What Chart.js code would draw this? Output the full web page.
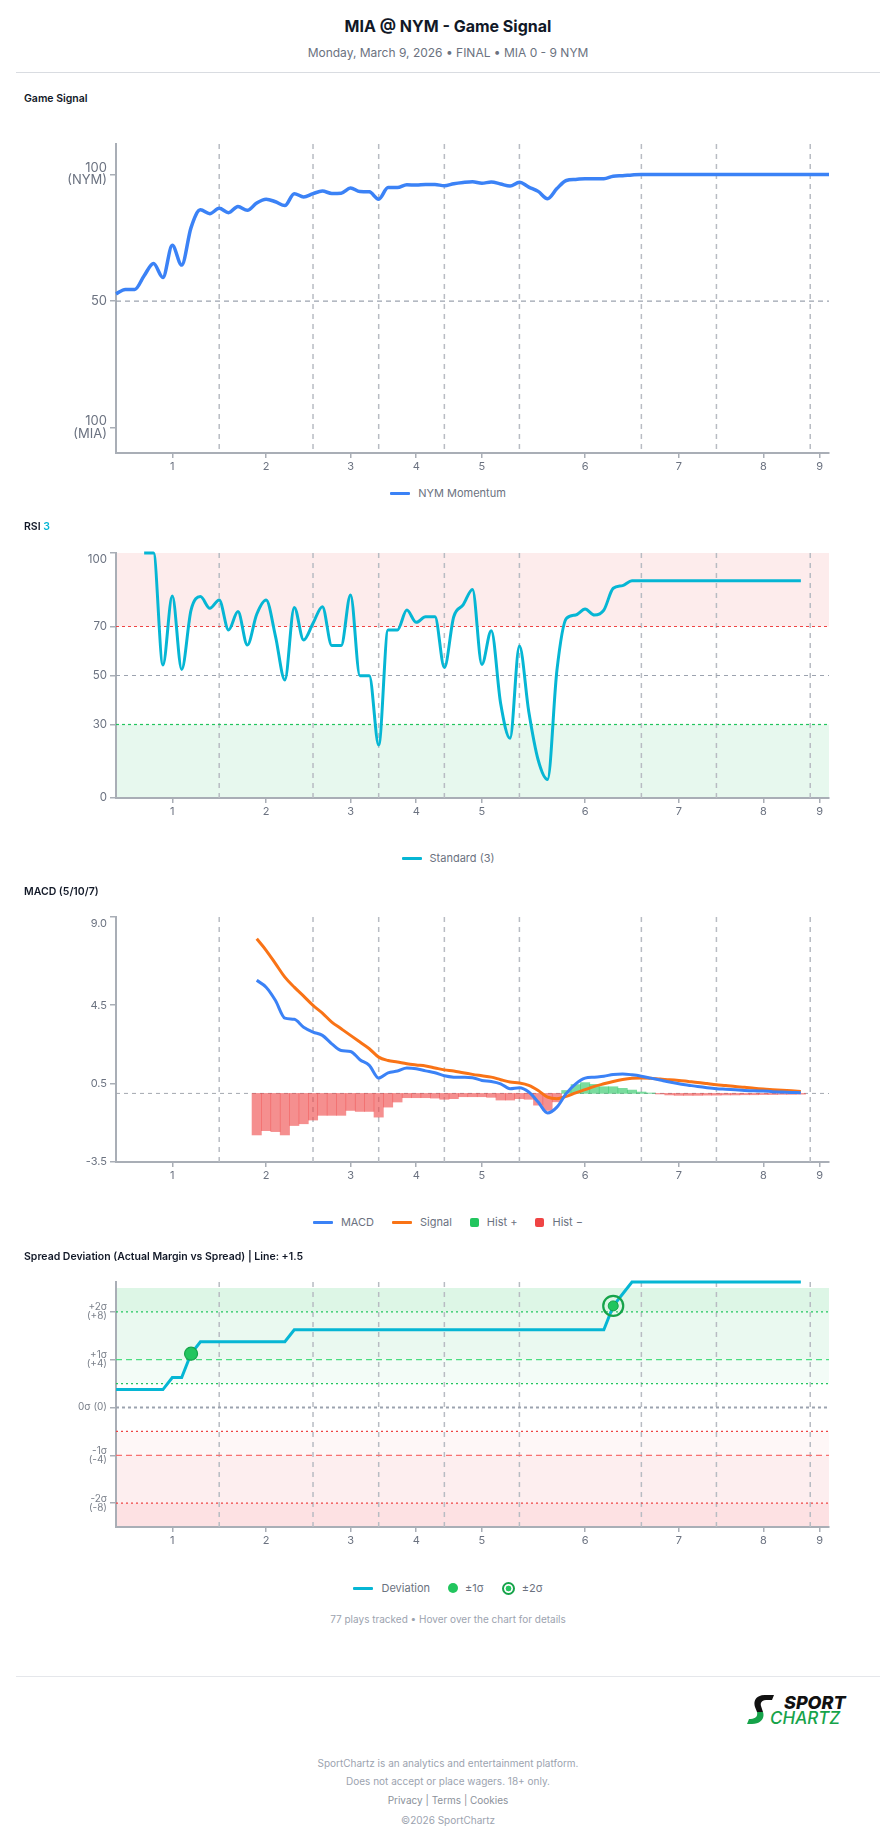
<!DOCTYPE html>
<html>
<head>
<meta charset="utf-8">
<title>MIA @ NYM - Game Signal</title>
<script src="https://cdn.jsdelivr.net/npm/chart.js@4.4.1/dist/chart.umd.min.js"></script>
<style>
    body { margin: 0; background: #fff; font-family: 'Inter', sans-serif; }
    #page { position: relative; width: 896px; height: 1845px; overflow: hidden; }
    .abs { position: absolute; white-space: nowrap; }
    .center { left: 0; width: 896px; text-align: center; }
    .title { top: 16px; font-size: 16px; line-height: 20px; font-weight: 700; color: #111827; }
    .subtitle { top: 45px; font-size: 12px; line-height: 16px; color: #6b7280; }
    .rule { position: absolute; left: 16px; width: 864px; height: 1px; background: #d9dce1; }
    .section { left: 24px; font-size: 10.5px; line-height: 14px; font-weight: 600; color: #111827; z-index: 2; }
    canvas { position: absolute; left: 0; }
    .legend { position: absolute; left: 0; width: 896px; display: flex; justify-content: center; gap: 18px;
              font-size: 11px; line-height: 14px; color: #6b7280; }
    .legend span { display: flex; align-items: center; }
    .ln { display: inline-block; width: 20px; height: 3px; margin-right: 8px; border-radius: 1px; }
    .sq { display: inline-block; width: 9px; height: 9px; margin-right: 8px; border-radius: 2px; }
    .dot { display: inline-block; width: 10px; height: 10px; margin-right: 7px; border-radius: 50%; background: #22c55e; }
    .ring { display: inline-block; width: 9px; height: 9px; margin-right: 7px; border-radius: 50%;
            border: 2px solid #16a34a; background: radial-gradient(circle, #22c55e 0 2.6px, #fff 3.2px); }
    .note { font-size: 10px; line-height: 14px; color: #9ca3af; }
    .foot { font-size: 10px; line-height: 14px; color: #9ca3af; }
</style>
</head>
<body>
<div id="page">
    <div class="abs center title">MIA @ NYM - Game Signal</div>
    <div class="abs center subtitle">Monday, March 9, 2026 • FINAL • MIA 0 - 9 NYM</div>
    <div class="rule" style="top:72px"></div>

    <canvas id="signalChart" width="896" height="363" style="top:120px"></canvas>
    <canvas id="rsiChart" width="896" height="299" style="top:529px"></canvas>
    <canvas id="macdChart" width="896" height="299" style="top:893px"></canvas>
    <canvas id="spreadChart" width="896" height="299" style="top:1258px"></canvas>

    <div class="abs section" style="top:92px">Game Signal</div>
    <div class="legend" style="top:486px">
        <span><i class="ln" style="background:#3b82f6"></i>NYM Momentum</span>
    </div>

    <div class="abs section" style="top:520px">RSI <span style="color:#06b6d4">3</span></div>
    <div class="legend" style="top:851px">
        <span><i class="ln" style="background:#06b6d4"></i>Standard (3)</span>
    </div>

    <div class="abs section" style="top:885px">MACD (5/10/7)</div>
    <div class="legend" style="top:1215px">
        <span><i class="ln" style="background:#3b82f6"></i>MACD</span>
        <span><i class="ln" style="background:#f97316"></i>Signal</span>
        <span><i class="sq" style="background:#22c55e"></i>Hist +</span>
        <span><i class="sq" style="background:#ef4444"></i>Hist −</span>
    </div>

    <div class="abs section" style="top:1250px">Spread Deviation (Actual Margin vs Spread) | Line: +1.5</div>
    <div class="legend" style="top:1581px">
        <span><i class="ln" style="background:#06b6d4"></i>Deviation</span>
        <span><i class="dot"></i>±1σ</span>
        <span><i class="ring"></i>±2σ</span>
    </div>
    <div class="abs center note" style="top:1612px">77 plays tracked • Hover over the chart for details</div>

    <div class="rule" style="top:1676px; background:#e5e7eb"></div>

    <svg class="abs" style="left:744px; top:1691px" width="126" height="36" viewBox="0 0 126 36">
        <path d="M30 4 L22 4 C12 4 9 10 11 16 L13 21 L19 21 L17 15 C16 11 18 9 24 9 L28 9 Z" fill="#111"/>
        <path d="M13 21 L19 21 C21 27 17 33 8 33 L3 33 L5 28 C11 28 14 26 13 21 Z" fill="#16a34a"/>
        <text x="40" y="18" font-family="Inter, sans-serif" font-size="18" font-weight="800" font-style="italic" fill="#111">SPORT</text>
        <text x="26" y="33" font-family="Inter, sans-serif" font-size="17" font-weight="500" font-style="italic" fill="#16a34a">CHARTZ</text>
    </svg>

    <div class="abs center foot" style="top:1756px">SportChartz is an analytics and entertainment platform.</div>
    <div class="abs center foot" style="top:1774px">Does not accept or place wagers. 18+ only.</div>
    <div class="abs center foot" style="top:1793px; color:#8b919a">Privacy | Terms | Cookies</div>
    <div class="abs center foot" style="top:1813px">©2026 SportChartz</div>
</div>

<script>
// MIA @ NYM game signal charts (Chart.js)

// ---- play axis: 77 tracked plays, labelled by inning ----
const plays = Array.from({ length: 77 }, (_, i) => i);
const inningTicks = [6, 16, 25, 32, 39, 50, 60, 69, 75];
const inningLabels = ['1', '2', '3', '4', '5', '6', '7', '8', '9'];
const inningBreaks = [11, 21, 28, 35, 43, 56, 64, 74];

// ---- NYM momentum (0 = MIA, 100 = NYM) ----
const momentum = [
    52.8, 54.6, 54.6, 60.0, 64.8, 59.3, 72.0, 64.2, 79.0, 86.0,
    84.5, 86.6, 84.9, 87.3, 85.8, 88.7, 90.2, 89.2, 87.7, 92.4,
    91.1, 92.4, 93.4, 92.5, 92.6, 94.6, 93.2, 93.1, 90.2, 94.8,
    94.8, 95.9, 95.8, 96.0, 96.0, 95.5, 96.3, 96.8, 97.1, 96.5,
    97.0, 96.2, 95.4, 96.9, 95.0, 93.3, 90.4, 94.4, 97.6, 98.0,
    98.3, 98.3, 98.3, 99.3, 99.5, 99.8, 100, 100, 100, 100,
    100, 100, 100, 100, 100, 100, 100, 100, 100, 100,
    100, 100, 100, 100, 100, 100, 100
];

// ---- RSI (3) ----
const rsi = [
    null, null, null, 100, 100, 54.3, 82.4, 52.5, 76.7, 82.2,
    77.4, 80.8, 68.6, 76.1, 62.4, 75.0, 80.8, 66.0, 48.2, 77.8,
    64.5, 71.3, 78.1, 62.2, 62.2, 82.9, 49.9, 49.9, 21.6, 68.6,
    68.6, 76.7, 71.7, 74.0, 74.0, 53.3, 74.0, 78.8, 85.1, 54.5,
    68.3, 38.6, 24.4, 62.0, 35.2, 15.5, 7.6, 52.2, 73.3, 74.7,
    77.1, 74.7, 76.7, 85.6, 86.7, 88.7, 88.7, 88.7, 88.7, 88.7,
    88.7, 88.7, 88.7, 88.7, 88.7, 88.7, 88.7, 88.7, 88.7, 88.7,
    88.7, 88.7, 88.7, 88.7, null, null, null
];

// ---- MACD (5/10/7) ----
const macdLine = [
    null, null, null, null, null, null, null, null, null, null,
    null, null, null, null, null, 5.77, 5.42, 4.74, 3.84, 3.78,
    3.38, 3.13, 2.96, 2.53, 2.19, 2.14, 1.72, 1.43, 0.78, 1.05,
    1.14, 1.29, 1.26, 1.15, 1.05, 0.90, 0.83, 0.82, 0.80, 0.66,
    0.61, 0.49, 0.24, 0.29, 0.07, -0.44, -1.00, -0.70, 0.00, 0.49,
    0.78, 0.83, 0.87, 0.97, 0.99, 0.95, 0.88, 0.78, 0.68, 0.58,
    0.49, 0.42, 0.35, 0.29, 0.24, 0.21, 0.18, 0.15, 0.13, 0.12,
    0.09, 0.07, 0.05, 0.03, null, null, null
];
const signalLine = [
    null, null, null, null, null, null, null, null, null, null,
    null, null, null, null, null, 7.89, 7.30, 6.62, 5.93, 5.42,
    4.96, 4.49, 4.10, 3.64, 3.30, 2.96, 2.62, 2.28, 1.85, 1.68,
    1.60, 1.51, 1.45, 1.40, 1.30, 1.20, 1.14, 1.05, 0.97, 0.90,
    0.83, 0.70, 0.58, 0.53, 0.41, 0.15, -0.19, -0.27, -0.15, 0.03,
    0.19, 0.36, 0.49, 0.61, 0.71, 0.77, 0.78, 0.77, 0.73, 0.70,
    0.66, 0.61, 0.56, 0.50, 0.44, 0.40, 0.35, 0.31, 0.26, 0.22,
    0.19, 0.16, 0.13, 0.10, null, null, null
];
const histogram = [
    null, null, null, null, null, null, null, null, null, null,
    null, null, null, null, null, -2.12, -1.90, -1.95, -2.12, -1.64,
    -1.55, -1.36, -1.12, -1.12, -1.12, -0.87, -0.92, -0.92, -1.21, -0.70,
    -0.44, -0.22, -0.22, -0.22, -0.24, -0.30, -0.27, -0.17, -0.17, -0.17,
    -0.20, -0.34, -0.34, -0.27, -0.30, -0.60, -0.87, -0.43, 0.15, 0.45,
    0.55, 0.46, 0.34, 0.34, 0.26, 0.17, 0.07, 0.02, -0.03, -0.08,
    -0.10, -0.10, -0.10, -0.09, -0.09, -0.08, -0.08, -0.07, -0.07, -0.06,
    -0.06, -0.05, -0.05, -0.04, null, null, null
];

// ---- spread deviation (actual NYM margin + 1.5 line), sigma = 4 ----
const deviation = [
    1.5, 1.5, 1.5, 1.5, 1.5, 1.5, 2.5, 2.5, 4.5, 5.5,
    5.5, 5.5, 5.5, 5.5, 5.5, 5.5, 5.5, 5.5, 5.5, 6.5,
    6.5, 6.5, 6.5, 6.5, 6.5, 6.5, 6.5, 6.5, 6.5, 6.5,
    6.5, 6.5, 6.5, 6.5, 6.5, 6.5, 6.5, 6.5, 6.5, 6.5,
    6.5, 6.5, 6.5, 6.5, 6.5, 6.5, 6.5, 6.5, 6.5, 6.5,
    6.5, 6.5, 6.5, 8.5, 9.5, 10.5, 10.5, 10.5, 10.5, 10.5,
    10.5, 10.5, 10.5, 10.5, 10.5, 10.5, 10.5, 10.5, 10.5, 10.5,
    10.5, 10.5, 10.5, 10.5, null, null, null
];
const sigma1Plays = [8];
const sigma2Plays = [53];

// ---- styling ----
const FONT = "'Inter', sans-serif";
const AXIS_GREY = '#a9aeb6';
const DIVIDER_GREY = '#b8bcc3';
const LABEL_GREY = '#6b7280';

Chart.defaults.font.family = FONT;

// bands, reference lines and inning dividers
const guides = {
    id: 'guides',
    beforeDraw(chart, args, opts) {
        const { ctx, chartArea: a, scales: { y } } = chart;
        ctx.save();
        (opts.bands || []).forEach(b => {
            const top = y.getPixelForValue(b.to);
            const bottom = y.getPixelForValue(b.from);
            ctx.fillStyle = b.color;
            ctx.fillRect(a.left, top, a.right - a.left, bottom - top);
        });
        ctx.restore();
    },
    beforeDatasetsDraw(chart, args, opts) {
        const { ctx, chartArea: a, scales: { x, y } } = chart;
        ctx.save();
        ctx.strokeStyle = DIVIDER_GREY;
        ctx.lineWidth = 1.5;
        ctx.setLineDash([5, 5]);
        inningBreaks.forEach(v => {
            const px = x.getPixelForValue(v);
            ctx.beginPath();
            ctx.moveTo(px, a.top);
            ctx.lineTo(px, a.bottom);
            ctx.stroke();
        });
        (opts.lines || []).forEach(l => {
            const py = y.getPixelForValue(l.value);
            ctx.strokeStyle = l.color;
            ctx.lineWidth = l.width || 1;
            ctx.setLineDash(l.dash);
            ctx.beginPath();
            ctx.moveTo(a.left, py);
            ctx.lineTo(a.right, py);
            ctx.stroke();
        });
        ctx.restore();
    }
};
Chart.register(guides);

function playAxis() {
    return {
        type: 'linear',
        min: 0,
        max: 76,
        offset: false,
        afterBuildTicks: axis => { axis.ticks = inningTicks.map(v => ({ value: v })); },
        afterFit: axis => { axis.height = 30; },
        grid: { offset: false, drawOnChartArea: false, drawTicks: true, tickLength: 5, color: AXIS_GREY, lineWidth: 1.5 },
        border: { color: AXIS_GREY, width: 2 },
        ticks: {
            autoSkip: false,
            maxRotation: 0,
            padding: 2,
            color: LABEL_GREY,
            font: { size: 11 },
            callback: (v, i) => inningLabels[i]
        }
    };
}

function valueAxis(min, max, values, labelFor, font, color) {
    return {
        min: min,
        max: max,
        afterBuildTicks: axis => { axis.ticks = values.map(v => ({ value: v })); },
        afterFit: axis => { axis.width = 108; },
        grid: { drawOnChartArea: false, drawTicks: true, tickLength: 6, color: AXIS_GREY, lineWidth: 1.5 },
        border: { color: AXIS_GREY, width: 2 },
        ticks: {
            padding: 3,
            color: color || LABEL_GREY,
            font: font,
            callback: v => labelFor(v)
        }
    };
}

function baseOptions(yAxis, guideOpts) {
    return {
        responsive: false,
        animation: false,
        layout: { padding: { top: 24, left: 8, right: 67, bottom: 0 } },
        interaction: { mode: 'index', intersect: false },
        plugins: {
            legend: { display: false },
            guides: guideOpts
        },
        elements: { point: { radius: 0, hoverRadius: 0 } },
        scales: { x: playAxis(), y: yAxis }
    };
}

// Game Signal
new Chart(document.getElementById('signalChart'), {
    type: 'line',
    data: {
        labels: plays,
        datasets: [{
            label: 'NYM Momentum',
            data: momentum,
            borderColor: '#3b82f6',
            borderWidth: 3.5,
            cubicInterpolationMode: 'monotone',
            clip: false
        }]
    },
    options: baseOptions(
        valueAxis(-10, 112, [0, 50, 100], v => {
            if (v === 100) return ['100', '(NYM)'];
            if (v === 0) return ['100', '(MIA)'];
            return String(v);
        }, { size: 13, lineHeight: 0.95 }),
        { lines: [{ value: 50, color: '#9ca3af', dash: [5, 4], width: 1.2 }] }
    )
});

// RSI 3
new Chart(document.getElementById('rsiChart'), {
    type: 'line',
    data: {
        labels: plays,
        datasets: [{
            label: 'Standard (3)',
            data: rsi,
            borderColor: '#06b6d4',
            borderWidth: 3,
            cubicInterpolationMode: 'monotone',
            clip: false
        }]
    },
    options: baseOptions(
        valueAxis(0, 100, [0, 30, 50, 70, 100], v => (v === 100 ? ['', '100'] : String(v)),
            { size: 11.5, lineHeight: 1.15 }),
        {
            bands: [
                { from: 70, to: 100, color: '#fdecec' },
                { from: 0, to: 30, color: '#e7f8ee' }
            ],
            lines: [
                { value: 70, color: '#ef4444', dash: [3, 3], width: 1 },
                { value: 50, color: '#9ca3af', dash: [4, 4], width: 1 },
                { value: 30, color: '#22c55e', dash: [3, 3], width: 1.2 }
            ]
        }
    )
});

// MACD (5/10/7)
new Chart(document.getElementById('macdChart'), {
    type: 'line',
    data: {
        labels: plays,
        datasets: [{
            label: 'MACD',
            data: macdLine,
            borderColor: '#3b82f6',
            borderWidth: 3,
            cubicInterpolationMode: 'monotone'
        }, {
            label: 'Signal',
            data: signalLine,
            borderColor: '#f97316',
            borderWidth: 3,
            cubicInterpolationMode: 'monotone'
        }, {
            type: 'bar',
            label: 'Histogram',
            data: histogram,
            backgroundColor: ctx => (ctx.raw >= 0 ? 'rgba(34, 197, 94, 0.6)' : 'rgba(239, 68, 68, 0.6)'),
            borderWidth: 0,
            barPercentage: 1,
            categoryPercentage: 1
        }]
    },
    options: baseOptions(
        valueAxis(-3.5, 9, [-3.5, 0.5, 4.5, 9], v => (v === 9 ? ['', '9.0'] : v.toFixed(1)),
            { size: 11, lineHeight: 1.15 }),
        { lines: [{ value: 0, color: '#a3a8b0', dash: [4, 4], width: 1 }] }
    )
});

// Spread Deviation
const sigmaLabels = { 8: ['+2σ', '(+8)'], 4: ['+1σ', '(+4)'], 0: '0σ (0)', '-4': ['-1σ', '(-4)'], '-8': ['-2σ', '(-8)'] };
new Chart(document.getElementById('spreadChart'), {
    type: 'line',
    data: {
        labels: plays,
        datasets: [{
            label: '±2σ',
            data: sigma2Plays.map(p => ({ x: p, y: deviation[p] })),
            showLine: false,
            pointRadius: 5,
            pointBackgroundColor: '#22c55e',
            pointBorderColor: '#16a34a',
            pointBorderWidth: 1
        }, {
            label: '±2σ ring',
            data: sigma2Plays.map(p => ({ x: p, y: deviation[p] })),
            showLine: false,
            pointRadius: 10,
            pointBackgroundColor: 'rgba(255, 255, 255, 0)',
            pointBorderColor: '#16a34a',
            pointBorderWidth: 2.2
        }, {
            label: '±1σ',
            data: sigma1Plays.map(p => ({ x: p, y: deviation[p] })),
            showLine: false,
            pointRadius: 6.5,
            pointBackgroundColor: '#22c55e',
            pointBorderColor: '#16a34a',
            pointBorderWidth: 1.2
        }, {
            label: 'Deviation',
            data: deviation,
            borderColor: '#06b6d4',
            borderWidth: 3,
            tension: 0,
            clip: false
        }]
    },
    options: baseOptions(
        valueAxis(-10, 10.5, [-8, -4, 0, 4, 8], v => sigmaLabels[v],
            { size: 10, lineHeight: 0.9 }, '#7b818b'),
        {
            bands: [
                { from: 8, to: 10, color: '#ddf6e6' },
                { from: 4, to: 8, color: '#eaf9f0' },
                { from: 2, to: 4, color: '#f3fcf7' },
                { from: -4, to: -2, color: '#fef7f7' },
                { from: -8, to: -4, color: '#fdeeef' },
                { from: -10, to: -8, color: '#fde1e3' }
            ],
            lines: [
                { value: 8, color: '#22c55e', dash: [2, 3], width: 1.2 },
                { value: 4, color: '#4ade80', dash: [6, 4], width: 1.2 },
                { value: 2, color: '#22c55e', dash: [2, 3], width: 1.2 },
                { value: 0, color: '#9ca3af', dash: [3, 3], width: 2 },
                { value: -2, color: '#ef4444', dash: [2, 3], width: 1.2 },
                { value: -4, color: '#f87171', dash: [6, 4], width: 1.2 },
                { value: -8, color: '#ef4444', dash: [2, 3], width: 1.2 }
            ]
        }
    )
});
</script>
</body>
</html>
